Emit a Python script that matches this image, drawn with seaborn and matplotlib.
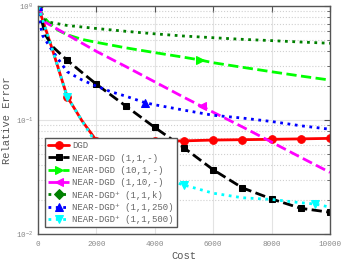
import numpy as np
import pandas as pd
import matplotlib
matplotlib.use("Agg")
import matplotlib.pyplot as plt
import seaborn as sns
from matplotlib.ticker import FixedLocator, LogLocator, NullFormatter

# ---------------- data ----------------
dgd_x = [0, 500, 1000, 1500, 2000, 3000, 4000, 5000, 6000, 7000, 8000, 9000, 10000]
dgd_y = [1.0, 0.41, 0.16, 0.099, 0.066, 0.064, 0.065, 0.0656, 0.0667, 0.0672, 0.0677, 0.0683, 0.069]
dgd_marks = [0, 2, 4, 5, 6, 7, 8, 9, 10, 11, 12]

n111_x = [0, 250, 500, 1000, 1500, 2000, 3000, 4000, 5000, 6000, 7000, 8000, 9000, 10000]
n111_y = [1.0, 0.56, 0.44, 0.334, 0.262, 0.206, 0.133, 0.086, 0.057, 0.0366, 0.0254, 0.0203, 0.0168, 0.0155]
n111_marks = [0, 3, 5, 6, 7, 8, 9, 10, 11, 12, 13]

n1011_x = [0, 200, 400, 700, 1000, 1500, 2000, 3000, 4000, 5000, 5550, 6000, 7000, 8000, 9000, 10000]
n1011_y = [1.0, 0.80, 0.70, 0.61, 0.56, 0.51, 0.48, 0.43, 0.39, 0.355, 0.336, 0.318, 0.29, 0.265, 0.243, 0.224]
n1011_marks = [0, 10]

n1110_x = [0, 250, 1000, 2000, 3000, 4000, 5000, 5600, 6000, 7000, 8000, 9000, 10000]
n1110_y = [1.0, 0.72, 0.56, 0.40, 0.295, 0.216, 0.158, 0.132, 0.117, 0.087, 0.064, 0.047, 0.0347]
n1110_marks = [0, 7]

np11k_x = [0, 80, 160, 400, 1000, 2000, 3000, 4000, 5000, 6000, 7000, 8000, 9000, 10000]
np11k_y = [1.0, 0.85, 0.774, 0.72, 0.675, 0.635, 0.60, 0.57, 0.545, 0.527, 0.51, 0.497, 0.483, 0.471]
np11k_marks = [0]

np250_x = [0, 80, 160, 410, 700, 1000, 1500, 2000, 2500, 3000, 3660, 4000, 5000, 6000, 7000, 8000, 9000, 10000]
np250_y = [1.0, 0.68, 0.55, 0.436, 0.34, 0.265, 0.225, 0.198, 0.177, 0.162, 0.142, 0.136, 0.122, 0.11, 0.104, 0.097, 0.089, 0.083]
np250_marks = [0, 10]

np500_x = [0, 500, 1000, 1500, 2000, 3000, 4000, 5000, 6000, 7000, 8000, 9000, 9500, 10000]
np500_y = [1.0, 0.41, 0.16, 0.099, 0.062, 0.041, 0.032, 0.0269, 0.0228, 0.0208, 0.0201, 0.0188, 0.0183, 0.0172]
np500_marks = [0, 2, 7, 12]

labels = ["DGD",
          "NEAR-DGD (1,1,-)",
          "NEAR-DGD (10,1,-)",
          "NEAR-DGD (1,10,-)",
          "NEAR-DGD\u207a (1,1,k)",
          "NEAR-DGD\u207a (1,1,250)",
          "NEAR-DGD\u207a (1,1,500)"]
x_ticks = [0, 2000, 4000, 6000, 8000, 10000]

# ---------------- style ----------------
sns.set_style("whitegrid")
plt.rcParams['font.family'] = ['Liberation Mono', 'DejaVu Sans']
plt.rcParams['mathtext.fontset'] = 'custom'
plt.rcParams['mathtext.rm'] = 'Liberation Mono'
plt.rcParams['mathtext.it'] = 'Liberation Mono'
plt.rcParams['mathtext.bf'] = 'Liberation Mono'

fig = plt.figure(figsize=(3.41, 2.66), dpi=100)
ax = fig.add_axes([38 / 341, 1 - 234 / 266, 292 / 341, 228 / 266])
ax.set_facecolor("white")

series = [
    (dgd_x, dgd_y, dgd_marks, "#ff0000", "-", "o", 5.5),
    (n111_x, n111_y, n111_marks, "#000000", "--", "s", 5.0),
    (n1011_x, n1011_y, n1011_marks, "#00ff00", "--", ">", 6.0),
    (n1110_x, n1110_y, n1110_marks, "#ff00ff", "--", "<", 6.0),
    (np11k_x, np11k_y, np11k_marks, "#008000", ":", "D", 5.0),
    (np250_x, np250_y, np250_marks, "#0000ff", ":", "^", 6.0),
    (np500_x, np500_y, np500_marks, "#00ffff", ":", "v", 6.0),
]

for (xs, ys, mk, col, ls, m, ms), lab in zip(series, labels):
    df = pd.DataFrame({"cost": xs, "err": ys})
    sns.lineplot(data=df, x="cost", y="err", ax=ax, color=col, linestyle=ls,
                 marker=m, markersize=ms, markevery=mk, linewidth=2.0,
                 markeredgecolor=col, markerfacecolor=col, label=lab,
                 estimator=None, sort=False)

ax.set_yscale("log")
ax.set_xlim(0, 10000)
ax.set_ylim(1e-2, 1.0)
ax.xaxis.set_major_locator(FixedLocator(x_ticks))
ax.yaxis.set_major_locator(LogLocator(base=10, numticks=10))
ax.yaxis.set_minor_locator(LogLocator(base=10, subs=np.arange(2, 10), numticks=10))
ax.yaxis.set_minor_formatter(NullFormatter())

ax.grid(True, which="major", color="#e3e3e3", linestyle="-", linewidth=0.8)
ax.grid(True, which="minor", axis="y", color="#d0d0d0", linestyle=":", linewidth=0.8)
ax.set_axisbelow(True)

for s in ax.spines.values():
    s.set_color("#555555")
    s.set_linewidth(1.0)
    s.set_visible(True)

ax.tick_params(which="both", direction="in", top=True, right=True,
               colors="#555555", labelcolor="#888888", labelsize=5.5)
ax.tick_params(which="major", length=4, width=0.8)
ax.tick_params(which="minor", length=2, width=0.6)
ax.tick_params(axis="x", pad=5)

ax.set_xlabel("Cost", fontsize=7.5, color="#555555", labelpad=2)
ax.set_ylabel("Relative Error", fontsize=7.5, color="#555555", labelpad=3)

leg = ax.legend(loc="upper left", bbox_to_anchor=(0.024, 0.421), borderaxespad=0,
                fontsize=6.5, frameon=True, fancybox=False, framealpha=1,
                edgecolor="#555555", handlelength=2.3, handletextpad=0.35,
                labelspacing=0.37, borderpad=0.35, numpoints=1)
leg.get_frame().set_linewidth(1.0)
for t in leg.get_texts():
    t.set_color("#666666")

fig.savefig("out.png", dpi=100)
